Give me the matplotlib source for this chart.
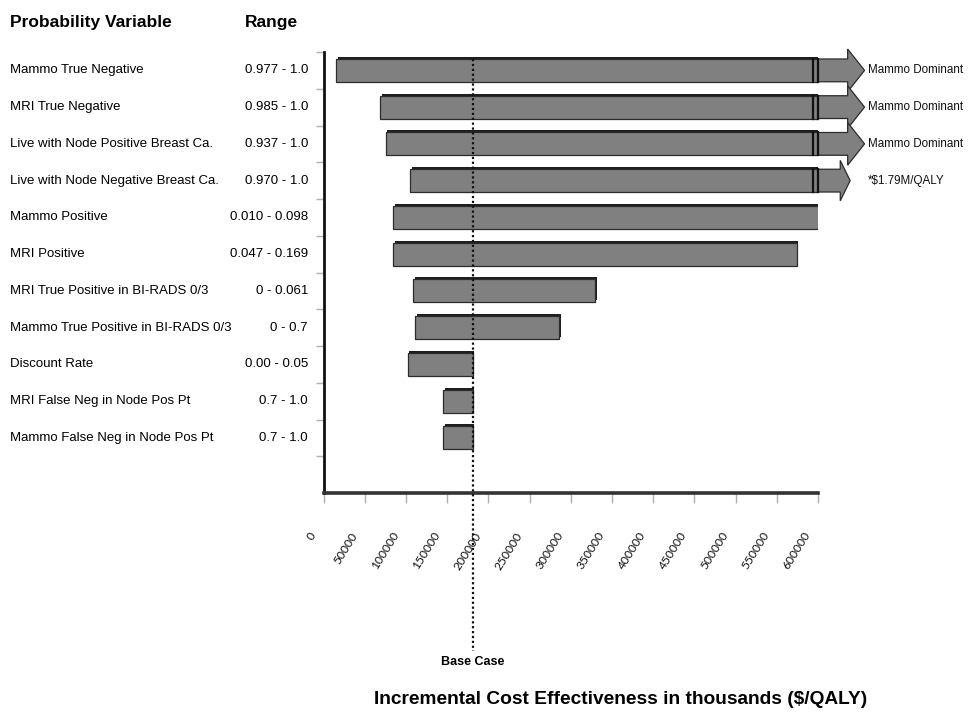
"""Tornado diagram: one-way sensitivity of incremental cost effectiveness."""

import matplotlib

matplotlib.use("Agg")
import matplotlib.pyplot as plt
import matplotlib.transforms as mtransforms

categories = [
    "Mammo True Negative",
    "MRI True Negative",
    "Live with Node Positive Breast Ca.",
    "Live with Node Negative Breast Ca.",
    "Mammo Positive",
    "MRI Positive",
    "MRI True Positive in BI-RADS 0/3",
    "Mammo True Positive in BI-RADS 0/3",
    "Discount Rate",
    "MRI False Neg in Node Pos Pt",
    "Mammo False Neg in Node Pos Pt",
]
ranges = [
    "0.977 - 1.0",
    "0.985 - 1.0",
    "0.937 - 1.0",
    "0.970 - 1.0",
    "0.010 - 0.098",
    "0.047 - 0.169",
    "0 - 0.061",
    "0 - 0.7",
    "0.00 - 0.05",
    "0.7 - 1.0",
    "0.7 - 1.0",
]
low_values = [15000, 68500, 75500, 105000, 84500, 84500, 109000, 111500, 102000, 145000, 145000]
high_values = [600000, 600000, 600000, 600000, 601000, 574000, 329500, 286000, 181000, 181000, 181000]
off_scale_notes = ["Mammo Dominant", "Mammo Dominant", "Mammo Dominant", "*$1.79M/QALY",
                   "", "", "", "", "", "", ""]
base_case = 181000
x_ticks = list(range(0, 600001, 50000))

ARIAL = ["Liberation Sans", "DejaVu Sans"]
BAR_FACE = "#808080"
BAR_EDGE = "#2b2b2b"
BAR_H = 0.62
NOTE_X = 661000

fig = plt.figure(figsize=(9.69, 7.17), dpi=100)
ax = fig.add_axes([323.5 / 969, 1 - 493 / 717, (818 - 323.5) / 969, 441 / 717])
ax.set_xlim(0, 600000)
ax.set_ylim(12, 0)

for i, (lo, hi, note) in enumerate(zip(low_values, high_values, off_scale_notes)):
    y = i + 0.5
    # dark offset copy gives the 3-D top/right edge
    ax.barh(y - 0.06, hi - lo, left=lo + 2000, height=BAR_H, color="#1e1e1e",
            edgecolor="none", zorder=2)
    ax.barh(y, hi - lo, left=lo, height=BAR_H, color=BAR_FACE, edgecolor=BAR_EDGE,
            linewidth=0.9, zorder=3)
    if note:
        big = note.startswith("Mammo")
        body = 36000 if big else 27000
        head = 20500 if big else 12000
        half_head = 0.58 if big else 0.55
        x0 = hi
        x1 = hi + body
        x2 = x1 + head
        top, bot = y - BAR_H / 2, y + BAR_H / 2
        ax.fill([x0, x1, x1, x2, x1, x1, x0],
                [top, top, y - half_head, y, y + half_head, bot, bot],
                facecolor=BAR_FACE, edgecolor=BAR_EDGE, linewidth=0.9,
                clip_on=False, zorder=4)
        for xv in (hi - 5500, hi):
            ax.plot([xv, xv], [top, bot], color="#111111", lw=1.6, zorder=5,
                    clip_on=False)
        ax.text(NOTE_X, y, note, ha="left", va="center", fontsize=8.4,
                family=ARIAL, color="#111111", clip_on=False)

# base case dotted line, running below the axis to its label
ax.plot([base_case, base_case], [0.2, 16.3], color="#111111", lw=1.6,
        linestyle=(0, (1, 1.2)), clip_on=False, zorder=6)
ax.text(base_case, 16.6, "Base Case", ha="center", va="center", fontsize=9,
        fontweight="bold", family=ARIAL, clip_on=False)

ax.spines["top"].set_visible(False)
ax.spines["right"].set_visible(False)
ax.spines["left"].set_linewidth(2)
ax.spines["left"].set_color("#111111")
ax.spines["bottom"].set_linewidth(2.6)
ax.spines["bottom"].set_color("#333333")

ax.set_yticks(range(12))
ax.set_yticklabels([])
ax.tick_params(axis="y", direction="out", length=6, width=1, color="#b0b0b0")
ax.set_xticks(x_ticks)
ax.set_xticklabels([])
ax.tick_params(axis="x", direction="out", length=7.2, width=1, color="#b0b0b0")

# Excel-style rotated tick labels, set down and left of each tick
label_shift = mtransforms.ScaledTranslation(-10 / 100, -40 / 100, fig.dpi_scale_trans)
for v in x_ticks:
    ax.text(v, 0, str(v), transform=ax.get_xaxis_transform() + label_shift,
            rotation=58, rotation_mode="anchor", ha="right", va="center",
            fontsize=8.7, family=["Lato", "DejaVu Sans"], color="#111111",
            clip_on=False)

# row labels in figure coordinates, left of the axis
for i, (name, rng) in enumerate(zip(categories, ranges)):
    y_fig = 1 - (52 + (i + 0.5) * 36.75) / 717
    fig.text(10 / 969, y_fig, name, ha="left", va="center", fontsize=9.5, family=ARIAL)
    fig.text(308 / 969, y_fig, rng, ha="right", va="center", fontsize=9.5, family=ARIAL)

fig.text(10 / 969, 1 - 22 / 717, "Probability Variable", ha="left", va="center",
         fontsize=12.5, fontweight="bold", family=ARIAL)
fig.text(245 / 969, 1 - 22 / 717, "Range", ha="left", va="center",
         fontsize=12.5, fontweight="bold", family=ARIAL)
fig.text(621 / 969, 1 - 700 / 717, "Incremental Cost Effectiveness in thousands ($/QALY)",
         ha="center", va="center", fontsize=13.8, fontweight="bold", family=ARIAL)

fig.savefig("out.png", dpi=100, facecolor="white")
